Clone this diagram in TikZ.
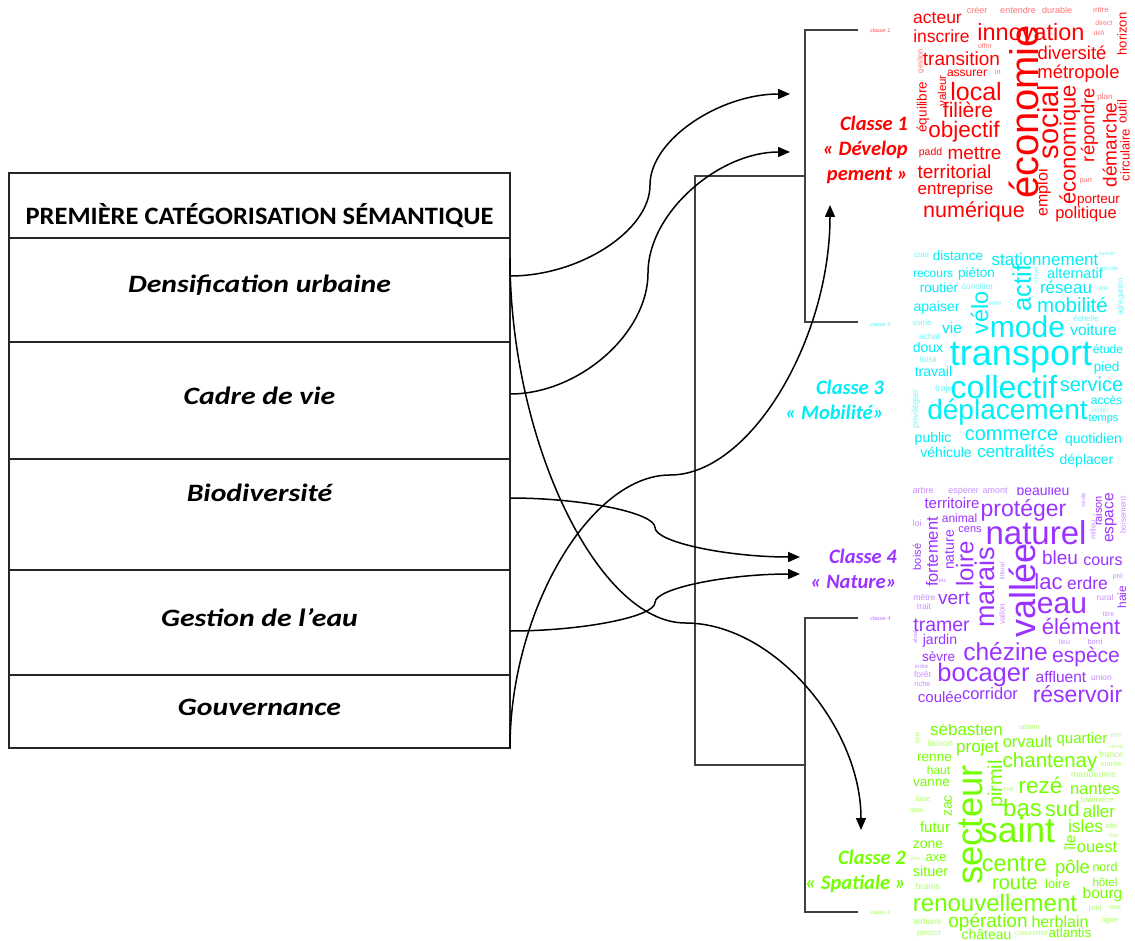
\documentclass[tikz,border=0pt]{standalone}
\usepackage{fontspec}
\usepackage{graphicx}
\setmainfont{Carlito}
\newfontfamily\cloudfont{Liberation Sans}
\usetikzlibrary{arrows.meta}
\definecolor{cred}{RGB}{255,0,0}
\definecolor{ccyan}{RGB}{0,238,245}
\definecolor{cpurple}{RGB}{155,50,255}
\definecolor{cgreen}{RGB}{115,255,0}
\definecolor{dgray}{RGB}{64,64,64}
\newcounter{wc}
\newcommand\cw[5][0]{\stepcounter{wc}\node[cloudword,rotate=#1,text height={0.7*#4pt},font=\cloudfont\fontsize{#4}{#4}\selectfont] (w\arabic{wc}) at (#2,#3) {#5};}
\newcommand\ct[5][0]{\stepcounter{wc}\node[cloudword,text opacity=0.55,rotate=#1,text height={0.7*#4pt},font=\cloudfont\fontsize{#4}{#4}\selectfont] (w\arabic{wc}) at (#2,#3) {#5};}
\newcommand\rowstretch[1]{\scalebox{1.19}[1]{#1}}
\tikzset{
  cloudword/.style={inner sep=0pt,outer sep=0pt,text depth=0pt,anchor=center},
  conn/.style={line width=1.5pt,black,-{Triangle[length=12pt,width=10pt]}},
  dendro/.style={line width=1.5pt,dgray},
  tabline/.style={line width=1.7pt,black!85},
  rowtext/.style={font=\fontsize{25}{25}\selectfont\bfseries\itshape,inner sep=0pt},
  headtext/.style={font=\fontsize{25}{25}\selectfont\bfseries,inner sep=0pt},
  classlabel/.style={font=\fontsize{20.5}{25}\selectfont\bfseries\itshape,align=right,anchor=east,inner sep=0pt},
  smalllabel/.style={font=\cloudfont\fontsize{5.5}{5.5}\selectfont\itshape,anchor=west,inner sep=0pt,text opacity=0.7},
}
\begin{document}
\begin{tikzpicture}[x=1pt,y=-1pt]
\useasboundingbox (0,0) rectangle (1135,941);
% ---------------- table
\draw[tabline] (9,173) rectangle (510,748);
\foreach \yy in {238,342,459,570,675} \draw[tabline] (9,\yy) -- (510,\yy);
\node[headtext] (head) at (259.5,216) {\scalebox{1.06}[1]{PREMIÈRE CATÉGORISATION SÉMANTIQUE}};
\node[rowtext] (t1) at (259.5,285) {\rowstretch{Densification urbaine}};
\node[rowtext] (t2) at (259.5,396) {\rowstretch{Cadre de vie}};
\node[rowtext] (t3) at (259.5,493) {\rowstretch{Biodiversité}};
\node[rowtext] (t4) at (259.5,618) {\rowstretch{Gestion de l’eau}};
\node[rowtext] (t5) at (259.5,707) {\rowstretch{Gouvernance}};
% ---------------- dendrogram
\coordinate (c1) at (858,30); \coordinate (c3) at (858,322);
\coordinate (c4) at (858,618); \coordinate (c2) at (858,912);
\draw[dendro] (c1) -- (805,30) -- (805,322) -- (c3);
\draw[dendro] (805,176) -- (695,176) -- (695,765) -- (805,765);
\draw[dendro] (c4) -- (805,618) -- (805,912) -- (c2);
\node[smalllabel,text=cred] (s1) at (870,31) {classe 1};
\node[smalllabel,text=ccyan] (s3) at (870,325) {classe 3};
\node[smalllabel,text=cpurple] (s4) at (870,619) {classe 4};
\node[smalllabel,text=cgreen] (s2) at (870,913) {classe 2};
% ---------------- class labels
\node[classlabel,text=cred] (k1) at (908,150) {Classe 1\\« Dévelop\\pement »};
\node[classlabel,text=ccyan] (k3) at (884,399.5) {Classe 3\\« Mobilité»};
\node[classlabel,text=cpurple] (k4) at (897,568.5) {Classe 4\\« Nature»};
\node[classlabel,text=cgreen] (k2) at (906,871) {Classe 2\\« Spatiale »};
% ---------------- connectors
\coordinate (a1s) at (510,276); \coordinate (a1m) at (650,185); \coordinate (a1e) at (790,94);
\coordinate (a2s) at (510,394); \coordinate (a2m) at (648,273); \coordinate (a2e) at (790,152);
\coordinate (a3s) at (510,748); \coordinate (a3m) at (670,475); \coordinate (a3e) at (830,205);
\coordinate (a4s) at (510,498); \coordinate (a4m) at (655,527.5); \coordinate (a4e) at (800,557);
\coordinate (a5s) at (510,631); \coordinate (a5m) at (655,602.5); \coordinate (a5e) at (800,574);
\coordinate (a6s) at (510,258); \coordinate (a6m) at (685.5,623); \coordinate (a6e) at (861,830);
\draw[conn] (a1s) .. controls +(70,0) and +(0,45.5) .. (a1m) .. controls +(0,-45.5) and +(-70,0) .. (a1e);
\draw[conn] (a2s) .. controls +(69,0) and +(0,60.5) .. (a2m) .. controls +(0,-60.5) and +(-71,0) .. (a2e);
\draw[conn] (a3s) .. controls +(0,-136.5) and +(-80,0) .. (a3m) .. controls +(80,0) and +(0,135) .. (a3e);
\draw[conn] (a4s) .. controls +(72.5,0) and +(0,-14.75) .. (a4m) .. controls +(0,14.75) and +(-72.5,0) .. (a4e);
\draw[conn] (a5s) .. controls +(72.5,0) and +(0,14.25) .. (a5m) .. controls +(0,-14.25) and +(-72.5,0) .. (a5e);
\draw[conn] (a6s) .. controls +(0,182.5) and +(-87.75,0) .. (a6m) .. controls +(87.75,0) and +(0,-103.5) .. (a6e);
% ---------------- cloud 1 (red)
\begin{scope}[text=cred]
\clip (905,8) rectangle (1135,236);
\cw{937.5}{17}{17.5}{acteur}
\ct{977}{10}{9}{créer}
\ct{1018}{10}{9}{entendre}
\ct{1057}{10}{9}{durable}
\ct{1101}{10}{8}{intre}
\cw{1031}{32}{23.5}{innovation}
\cw{941.5}{36}{17.5}{inscrire}
\ct{1104}{23}{7}{direct}
\ct{1099}{33}{6.5}{défi}
\cw[90]{1122}{34}{13}{horizon}
\ct{985}{46}{7}{offrir}
\ct[90]{920}{61}{7.5}{gestion}
\cw{961.5}{59}{19}{transition}
\cw{1072}{53}{18.5}{diversité}
\cw[90]{1024}{112}{40}{économie}
\cw{967}{72}{12}{assurer}
\ct{998}{72}{7}{irt}
\cw{1078.5}{72}{18.5}{métropole}
\cw[90]{942}{91}{11.5}{valeur}
\cw[90]{922}{107}{13.5}{équilibre}
\cw{976}{92}{25}{local}
\cw[90]{1048}{122}{29}{social}
\cw[90]{1068}{145}{22}{économique}
\cw[90]{1088}{125}{18.5}{répondre}
\ct{1105}{97}{8}{plan}
\cw[90]{1122}{112}{13}{outil}
\cw[90]{1110}{145}{19}{démarche}
\cw[90]{1125}{155}{13}{circulaire}
\cw{968}{110}{21}{filière}
\cw{964}{130}{22.5}{objectif}
\cw{930.5}{152}{10.5}{padd}
\cw{974.5}{153}{19}{mettre}
\cw{954.5}{172}{19}{territorial}
\ct{1086}{180}{7}{part}
\cw{955.5}{189}{17}{entreprise}
\cw[90]{1042}{193}{16}{emploi}
\cw{1098.5}{199}{13.5}{porteur}
\cw{974}{210}{21.5}{numérique}
\cw{1086}{213}{16.5}{politique}
\end{scope}
% ---------------- cloud 3 (cyan)
\begin{scope}[text=ccyan]
\ct{922}{255}{8}{cour}
\cw{958}{256}{13.5}{distance}
\cw{1045}{260}{17}{stationnement}
\ct{1107}{254}{5}{familier}
\cw{933}{273}{12}{recours}
\cw{976.5}{273}{13.5}{piéton}
\cw[90]{1022}{288}{25.5}{actif}
\ct[90]{1036}{275}{7}{choix}
\cw{1075}{273}{14.5}{alternatif}
\ct{1111}{268}{6}{école}
\ct[90]{1120}{297}{8}{agrégation}
\cw{939}{288}{13.5}{routier}
\ct{977.5}{287}{8.5}{concilier}
\cw{1066}{288}{17}{réseau}
\ct{1103.5}{288}{6}{ville}
\cw{936.5}{307}{14}{apaiser}
\cw[90]{980}{313}{23.5}{vélo}
\ct{995}{303}{6}{enfin}
\cw{1072.5}{305}{20.5}{mobilité}
\ct{1086}{319}{8}{échelle}
\cw{1027.5}{327}{30}{mode}
\cw{1093.5}{330}{15.5}{voiture}
\ct{922}{323}{8}{voirie}
\cw{952}{328}{15.5}{vie}
\ct{929.5}{337}{8.5}{achat}
\cw{1021}{353}{36}{transport}
\cw{928}{348}{14}{doux}
\cw{1108}{349}{12}{étude}
\ct{928.5}{360}{8.5}{loisir}
\cw{1106.5}{367}{13.5}{pied}
\cw{933.5}{372}{14}{travail}
\ct[90]{915}{409}{9}{privilégier}
\ct{945}{388}{9}{trajet}
\cw{1004}{387}{32}{collectif}
\cw{1091.5}{384}{20}{service}
\cw{1106.5}{400}{12}{accès}
\ct{1100}{410}{6.5}{inciter}
\cw{1103.5}{418}{11}{temps}
\cw{1007.5}{410}{28}{déplacement}
\cw{933}{438}{14}{public}
\cw{1011.5}{433}{20}{commerce}
\cw{1093.5}{439}{14}{quotidien}
\cw{946}{453}{14}{véhicule}
\cw{1016}{452}{17}{centralités}
\cw{1086.5}{460}{14}{déplacer}
\end{scope}
% ---------------- cloud 4 (purple)
\begin{scope}[text=cpurple]
\clip (905,487) rectangle (1135,710);
\ct{923}{490}{9}{arbre}
\ct{963.5}{490}{9}{espérer}
\ct{995}{490}{9}{amont}
\cw{1043}{491}{14}{beaulieu}
\ct[90]{1083}{500}{6}{vaste}
\cw[90]{1098}{511}{11}{raison}
\ct[90]{1093}{530}{7.5}{milieu}
\cw[90]{1108}{518}{15.5}{espace}
\ct[90]{1123}{515}{8}{boisement}
\cw{952}{503}{15}{territoire}
\cw{1023.5}{508}{23}{protéger}
\cw{959.5}{518}{12}{animal}
\ct{917}{523}{9}{loi}
\cw[90]{932}{552}{16.5}{fortement}
\cw[90]{949}{550}{14}{nature}
\cw{970}{529}{11}{cens}
\cw{1036}{533}{33}{naturel}
\cw[90]{917}{557}{11}{boisé}
\cw[90]{965}{564}{24}{loire}
\cw[90]{985}{587}{27}{marais}
\cw[90]{1023}{590}{36}{vallée}
\ct[90]{1002}{571}{6.5}{littoral}
\ct[90]{1002}{614}{8}{vallon}
\cw{1060}{558}{19}{bleu}
\cw{1103}{560}{16}{cours}
\ct{942.5}{580}{6}{etc}
\cw{1048.5}{582}{22}{lac}
\cw{1087.5}{583}{17.5}{erdre}
\ct{1118}{576}{7}{pré}
\ct{924.5}{598}{8.5}{mètre}
\ct{924}{607}{8.5}{trait}
\cw{954}{598}{19}{vert}
\cw{1062}{603}{30}{eau}
\ct{1105}{598}{8.5}{rural}
\cw[90]{1122}{597}{12}{haie}
\ct{1108.5}{614}{7}{titre}
\cw{941.5}{625}{19.5}{tramer}
\cw{1081}{627}{22}{élément}
\ct[90]{915}{637}{6}{atout}
\cw{940}{640}{14}{jardin}
\ct{1064.5}{642}{7}{lieu}
\ct{1095}{642}{7.5}{bord}
\cw{1005.5}{652}{24.5}{chézine}
\cw{938.5}{657}{13.5}{sèvre}
\cw{1086}{655}{21}{espèce}
\ct{921.5}{666}{6}{indre}
\ct{922.5}{675}{8.5}{forêt}
\cw{983.5}{673}{25.5}{bocager}
\cw{1061}{677}{15.5}{affluent}
\ct{1101.5}{678}{8.5}{union}
\ct{922.5}{684}{7.5}{riche}
\cw{940}{697}{15}{coulée}
\cw{990}{694}{16.5}{corridor}
\cw{1077.5}{694}{23}{réservoir}
\end{scope}
% ---------------- cloud 2 (green)
\begin{scope}[text=cgreen]
\clip (905,724) rectangle (1135,941);
\cw{966.5}{730}{17}{sébastien}
\ct{1029}{727}{7.5}{urbain}
\ct[90]{917}{738}{6.5}{bois}
\ct{940}{743}{9}{liaison}
\cw{977.5}{747}{17}{projet}
\cw{1027.5}{742}{16.5}{orvault}
\cw{1082}{738}{15}{quartier}
\ct{1116.5}{735}{7}{min}
\cw{934.5}{757}{13.5}{renne}
\cw{1050}{760}{20.5}{chantenay}
\ct{1116}{747}{5.5}{verne}
\ct{1111.5}{755}{8.5}{france}
\ct{1111}{764}{7.5}{entrée}
\cw{938.5}{770}{12}{haut}
\cw[90]{970}{825}{36.5}{secteur}
\cw[90]{995}{784}{20}{pirmil}
\ct{1093.5}{774}{9}{manoeuvre}
\ct{1009}{789}{7}{rue}
\cw{1040.5}{786}{22.5}{rezé}
\cw{1095}{789}{16.5}{nantes}
\cw{931.5}{782}{13.5}{vanne}
\ct{923}{799}{8}{luce}
\cw[90]{947}{806}{14}{zac}
\ct{1097}{800}{8}{babinière}
\ct{916.5}{810}{7}{quai}
\cw{1022.5}{808}{24}{bas}
\cw{1062.5}{809}{21.5}{sud}
\cw{1099}{812}{17}{aller}
\cw{935}{827}{15}{futur}
\cw{1017.5}{830}{35.5}{saint}
\cw{1085.5}{826}{17.5}{isles}
\ct{1111.5}{826}{8}{site}
\ct{1113.5}{835}{6}{rive}
\cw[90]{1070}{843}{15}{île}
\cw{928}{844}{14}{zone}
\cw{1097}{847}{16.5}{ouest}
\ct{915}{858}{6}{voir}
\cw{936}{857}{13}{axe}
\cw{1014.5}{863}{23.5}{centre}
\cw{1072.5}{867}{18.5}{pôle}
\cw{1105}{867}{12.5}{nord}
\cw{930.5}{871}{14.5}{situer}
\cw{1015}{882}{20}{route}
\cw{1057.5}{884}{13}{loire}
\cw{1105}{882}{11.5}{hôtel}
\ct{927.5}{886}{9}{brains}
\cw{1102.5}{893}{15.5}{bourg}
\cw{995}{903}{24}{renouvellement}
\ct{1095}{908}{8}{pmi}
\ct{1115.5}{907}{7}{mor}
\ct{1110}{920}{7.5}{ligne}
\ct{927.5}{922}{8.5}{tertiaire}
\cw{988}{921}{19}{opération}
\cw{1060}{922}{16}{herblain}
\ct{929}{933}{8}{peccot}
\cw{986.5}{935}{14}{château}
\ct{1023.5}{933}{7}{coeur}
\ct{1040.5}{933}{7}{relier}
\cw{1070}{933}{13.5}{atlantis}
\end{scope}
\end{tikzpicture}
\end{document}
